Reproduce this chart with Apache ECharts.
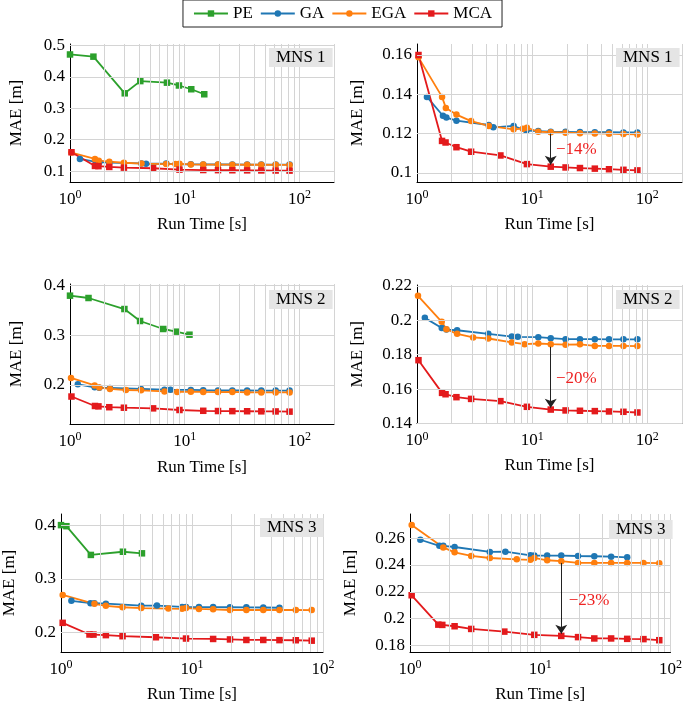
<!DOCTYPE html>
<html><head><meta charset="utf-8">
<script src="https://cdn.jsdelivr.net/npm/echarts@6/dist/echarts.min.js"></script>
<style>html,body{margin:0;padding:0;background:#fff}#c{width:685px;height:704px}</style>
</head><body><div id="c"></div>
<script>
// ---------------- data ----------------
const seriesNames = ['PE', 'GA', 'EGA', 'MCA'];
const panelTitles = ['MNS 1', 'MNS 1', 'MNS 2', 'MNS 2', 'MNS 3', 'MNS 3'];

const mcaT = [1.03, 1.65, 1.77, 2.2, 2.95, 5.3, 9.0, 14.5, 19.5, 26, 35, 46.5, 62, 82];

const pe1T = [1.0, 1.6, 3.0, 4.1, 7.0, 8.9, 11.4, 14.8];
const pe1Y = [0.472, 0.465, 0.348, 0.387, 0.382, 0.373, 0.361, 0.345];
const ga1T = [1.22, 1.68, 1.8, 2.2, 4.2, 4.6, 6.9, 8.9, 11.3, 14.5, 19.5, 26, 35, 46.5, 62, 82];
const ga1Y = [0.1387, 0.1291, 0.1282, 0.1266, 0.1244, 0.1232, 0.1239, 0.1215, 0.1213, 0.1210, 0.1209, 0.1208, 0.1207, 0.1207, 0.1206, 0.1206];
const ega1T = [1.03, 1.65, 1.78, 2.2, 2.95, 4.2, 6.9, 8.3, 9.0, 11.3, 14.5, 19.5, 26, 35, 46.5, 62, 82];
const ega1Y = [0.1588, 0.1387, 0.1331, 0.1297, 0.1264, 0.1239, 0.1222, 0.1225, 0.1230, 0.1210, 0.1207, 0.1205, 0.1202, 0.1201, 0.1200, 0.1198, 0.1196];
const mca1Y = [0.1600, 0.1163, 0.1155, 0.1131, 0.1108, 0.1089, 0.1045, 0.1032, 0.1028, 0.1025, 0.1022, 0.1019, 0.1016, 0.1013];

const pe2T = [1.0, 1.45, 2.98, 4.08, 6.5, 8.4, 11.0];
const pe2Y = [0.3799, 0.3752, 0.353, 0.3289, 0.3128, 0.3074, 0.3013];
const ga2T = [1.17, 1.64, 1.8, 2.23, 4.16, 6.66, 7.5, 11.3, 14.5, 19.5, 26, 35, 46.5, 62, 82];
const ga2Y = [0.2014, 0.1955, 0.1946, 0.1942, 0.1921, 0.1905, 0.1904, 0.1902, 0.1896, 0.1890, 0.1890, 0.1890, 0.1889, 0.1889, 0.1889];
const ega2T = [1.02, 1.64, 1.8, 2.23, 3.07, 4.16, 6.66, 8.6, 11.3, 14.5, 19.5, 26, 35, 46.5, 62, 82];
const ega2Y = [0.2142, 0.1991, 0.1948, 0.1921, 0.1900, 0.1894, 0.1871, 0.1861, 0.1865, 0.1861, 0.1858, 0.1860, 0.1851, 0.1851, 0.1851, 0.1850];
const mca2Y = [0.1768, 0.1578, 0.1570, 0.1553, 0.1543, 0.1530, 0.1497, 0.1481, 0.1476, 0.1474, 0.1472, 0.1470, 0.1468, 0.1464];

const pe3T = [1.0, 1.1, 1.69, 2.97, 4.15];
const pe3Y = [0.401, 0.399, 0.345, 0.351, 0.348];
const ga3T = [1.2, 1.68, 1.8, 2.2, 4.1, 5.4, 8.4, 9.0, 11.3, 14.5, 19.5, 26, 35, 46.5];
const ga3Y = [0.2588, 0.2543, 0.2543, 0.2534, 0.2497, 0.2499, 0.2472, 0.2470, 0.2470, 0.2470, 0.2467, 0.2465, 0.2462, 0.2457];
const ega3T = [1.03, 1.8, 2.2, 2.95, 4.1, 6.6, 8.4, 9.0, 11.3, 14.5, 19.5, 26, 35, 46.5, 62, 82];
const ega3Y = [0.2698, 0.2531, 0.2494, 0.2467, 0.2452, 0.2442, 0.2438, 0.2452, 0.2435, 0.2428, 0.2415, 0.2415, 0.2415, 0.2415, 0.2415, 0.2413];
const mca3Y = [0.2174, 0.1955, 0.1953, 0.1943, 0.1923, 0.1903, 0.1879, 0.1871, 0.1862, 0.1852, 0.1852, 0.1849, 0.1847, 0.1839];

// y tick labels per panel
const yTicks = [
  [0.1, 0.2, 0.3, 0.4, 0.5],
  [0.1, 0.12, 0.14, 0.16],
  [0.2, 0.3, 0.4],
  [0.14, 0.16, 0.18, 0.2, 0.22],
  [0.2, 0.3, 0.4],
  [0.18, 0.2, 0.22, 0.24, 0.26]
];
const xMinorGrid200 = [2, 3, 4, 5, 6, 7, 8, 9, 10, 20, 30, 40, 50, 60, 70, 80, 90, 100, 200];
const xMinorGrid100 = [2, 3, 4, 5, 6, 7, 8, 9, 10, 20, 30, 40, 50, 60, 70, 80, 90, 100];

// annotations (right panels)
const annArrowT = [14.5, 14.5, 14.5];
const annFrom = [0.1200, 0.1846, 0.2415];
const annTo = [0.1042, 0.1492, 0.1888];
const annText = ['\u221214%', '\u221220%', '\u221223%'];
const annTextT = [24.2, 24.2, 23.7];
const annTextY = [0.1117, 0.1663, 0.2137];

// ---------------- layout / style ----------------
const FONT = 'Liberation Serif';
const colors = { PE: '#2ca02c', GA: '#1f77b4', EGA: '#ff7f0e', MCA: '#e31a1c' };
const symbols = { PE: 'rect', GA: 'circle', EGA: 'circle', MCA: 'rect' };
const panels = [
  { left: 70, top: 44, width: 264, height: 138, xmax: 200, ymin: 0.065, ymax: 0.5054, yGap: 45, xGap: 34, box: [269, 48] },
  { left: 417, top: 44, width: 266, height: 138, xmax: 200, ymin: 0.0954, ymax: 0.1656, yGap: 51, xGap: 34, box: [616, 48] },
  { left: 70, top: 284, width: 264, height: 140, xmax: 200, ymin: 0.1215, ymax: 0.4034, yGap: 45, xGap: 35, box: [269, 290] },
  { left: 417, top: 285, width: 266, height: 138.5, xmax: 200, ymin: 0.14, ymax: 0.2205, yGap: 51, xGap: 34, box: [616, 290] },
  { left: 59, top: 514, width: 264, height: 139, xmax: 100, ymin: 0.1626, ymax: 0.4219, yGap: 43, xGap: 34, box: [260, 518] },
  { left: 410, top: 514, width: 263, height: 139, xmax: 100, ymin: 0.1751, ymax: 0.278, yGap: 51, xGap: 34, box: [609, 520] }
];

const dataSets = [
  { PE: [pe1T, pe1Y], GA: [ga1T, ga1Y], EGA: [ega1T, ega1Y], MCA: [mcaT, mca1Y] },
  { PE: [pe2T, pe2Y], GA: [ga2T, ga2Y], EGA: [ega2T, ega2Y], MCA: [mcaT, mca2Y] },
  { PE: [pe3T, pe3Y], GA: [ga3T, ga3Y], EGA: [ega3T, ega3Y], MCA: [mcaT, mca3Y] }
];

const zip = (a, b) => a.map((v, i) => [v, b[i]]);
const fmtY = v => String(+(+v).toFixed(3));

const grid = [], xAxis = [], yAxis = [], series = [], title = [];

panels.forEach((p, i) => {
  grid.push({ left: p.left, top: p.top, width: p.width, height: p.height, containLabel: false });
  xAxis.push({
    type: 'log', logBase: 10, min: 1, max: p.xmax, gridIndex: i,
    name: 'Run Time [s]', nameLocation: 'middle', nameGap: p.xGap,
    nameTextStyle: { fontFamily: FONT, fontSize: 17, color: '#000' },
    axisLine: { show: true, onZero: false, lineStyle: { color: '#000', width: 1 } },
    axisTick: { show: false }, splitLine: { show: false }, minorTick: { show: false },
    axisLabel: {
      margin: 7, color: '#000',
      formatter: v => {
        const e = Math.log10(v);
        if (Math.abs(e - Math.round(e)) > 1e-6) return '';
        return '{b|10}{s|' + Math.round(e) + '}';
      },
      rich: {
        b: { fontFamily: FONT, fontSize: 17, color: '#000' },
        s: { fontFamily: FONT, fontSize: 12, color: '#000', padding: [0, 0, 9, 0] }
      }
    }
  });
  yAxis.push({
    type: 'value', min: p.ymin, max: p.ymax, gridIndex: i,
    name: 'MAE [m]', nameLocation: 'middle', nameGap: p.yGap, nameRotate: 90,
    nameTextStyle: { fontFamily: FONT, fontSize: 17, color: '#000' },
    axisLine: { show: true, onZero: false, lineStyle: { color: '#000', width: 1 } },
    axisTick: { show: false }, splitLine: { show: false },
    axisLabel: { customValues: yTicks[i], margin: 5, color: '#000', fontFamily: FONT, fontSize: 17, formatter: fmtY }
  });
  title.push({
    text: panelTitles[i], left: p.box[0], top: p.box[1],
    backgroundColor: '#e5e5e5', padding: [1, 7, 0, 7],
    textStyle: { fontFamily: FONT, fontSize: 17, fontWeight: 'normal', color: '#000', lineHeight: 18 }
  });
  // gridlines
  const xg = (p.xmax === 200 ? xMinorGrid200 : xMinorGrid100).map(v => ({ xAxis: v }));
  const yg = yTicks[i].map(v => ({ yAxis: v }));
  series.push({
    type: 'line', data: [], xAxisIndex: i, yAxisIndex: i, silent: true, z: 0, animation: false,
    markLine: { silent: true, animation: false, symbol: ['none', 'none'], label: { show: false },
      lineStyle: { color: '#d4d4d4', width: 1, type: 'solid' }, emphasis: { disabled: true },
      data: xg.concat(yg) }
  });
  const ds = dataSets[Math.floor(i / 2)];
  const names = (i % 2 === 0) ? seriesNames : seriesNames.slice(1);
  names.forEach(n => {
    const s = {
      type: 'line', name: n, data: zip(ds[n][0], ds[n][1]), xAxisIndex: i, yAxisIndex: i,
      symbol: symbols[n], symbolSize: 6.5, showSymbol: true,
      lineStyle: { color: colors[n], width: 1.8 }, itemStyle: { color: colors[n] },
      clip: false, animation: false, z: 3
    };
    if (n === 'MCA' && i % 2 === 1) {
      const k = Math.floor(i / 2);
      s.markLine = {
        silent: true, animation: false, symbol: ['none', 'arrow'], symbolSize: 9,
        label: { show: false }, lineStyle: { color: '#222', width: 1, type: 'solid' },
        emphasis: { disabled: true },
        data: [[{ coord: [annArrowT[k], annFrom[k]], symbol: 'none' }, { coord: [annArrowT[k], annTo[k]], symbol: 'arrow', symbolSize: 9 }]]
      };
      s.markPoint = {
        silent: true, animation: false, symbol: 'circle', symbolSize: 0,
        label: { show: true, position: 'inside', formatter: annText[k], color: '#ee2222', fontFamily: FONT, fontSize: 17 },
        data: [{ coord: [annTextT[k], annTextY[k]] }]
      };
    }
    series.push(s);
  });
});

const chart = echarts.init(document.getElementById('c'), null, { renderer: 'canvas' });
chart.setOption({
  animation: false,
  backgroundColor: '#fff',
  title: title,
  legend: {
    data: seriesNames, left: 'center', top: 0,
    padding: [5, 10, 5, 10], itemGap: 7, itemWidth: 34, itemHeight: 8,
    borderColor: '#222', borderWidth: 1,
    textStyle: { fontFamily: FONT, fontSize: 17, color: '#000', padding: [0, 0, 0, 0] }
  },
  grid: grid, xAxis: xAxis, yAxis: yAxis, series: series
});
</script>
</body></html>
